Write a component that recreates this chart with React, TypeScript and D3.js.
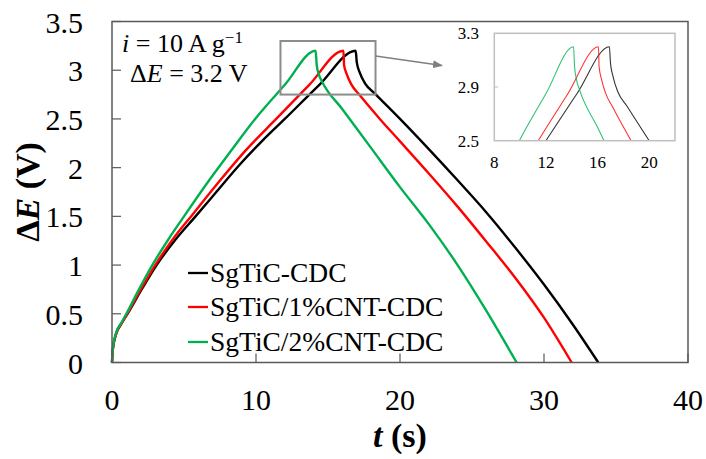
import React from "react";
import * as d3 from "d3";

// ---- data ----
const blackT = [0, 0.05, 0.3, 0.66, 1.16, 2.1, 3.1, 4.4, 5.8, 7.3, 8.8, 10.4, 12.0, 14.4, 16.92, 17.0, 17.22, 17.57, 18.26, 20.0, 22.0, 24.0, 26.0, 28.0, 30.0, 32.0, 33.77];
const blackV = [0, 0.13, 0.3, 0.4, 0.52, 0.76, 1.0, 1.26, 1.5, 1.76, 2.02, 2.27, 2.5, 2.85, 3.2, 3.08, 2.97, 2.865, 2.76, 2.5, 2.19, 1.87, 1.54, 1.18, 0.8, 0.39, 0];
const redT = [0, 0.05, 0.3, 0.66, 1.1, 2.0, 3.0, 4.2, 5.6, 7.4, 9.3, 11.4, 13.7, 16.07, 16.12, 16.3, 16.6, 17.2, 18.6, 20.0, 22.0, 24.0, 26.0, 28.0, 30.0, 31.92];
const redV = [0, 0.13, 0.3, 0.4, 0.51, 0.75, 1.0, 1.26, 1.52, 1.85, 2.18, 2.5, 2.85, 3.2, 3.05, 2.96, 2.86, 2.745, 2.5, 2.27, 1.94, 1.6, 1.24, 0.87, 0.46, 0];
const greenT = [0, 0.05, 0.3, 0.66, 1.0, 1.8, 2.8, 3.9, 5.0, 6.6, 8.2, 9.94, 12.0, 14.14, 14.22, 14.38, 14.6, 16.0, 18.0, 20.0, 22.0, 24.0, 26.0, 28.1];
const greenV = [0, 0.13, 0.31, 0.41, 0.5, 0.73, 1.0, 1.26, 1.5, 1.84, 2.16, 2.5, 2.85, 3.2, 3.05, 2.95, 2.88, 2.6, 2.2, 1.8, 1.42, 1.0, 0.53, 0];

const seriesNames = ["SgTiC-CDC", "SgTiC/1%CNT-CDC", "SgTiC/2%CNT-CDC"];
const seriesColors = ["#000000", "#ff0000", "#00b050"];

const xTicks = [0, 10, 20, 30, 40];
const yTicks = [0, 0.5, 1, 1.5, 2, 2.5, 3, 3.5];
const yTickLabels = ["0", "0.5", "1", "1.5", "2", "2.5", "3", "3.5"];
const insetXTicks = [8, 12, 16, 20];
const insetYTicks = [2.5, 2.9, 3.3];
const insetYTickLabels = ["2.5", "2.9", "3.3"];
const zoomBoxT = [11.7, 18.3];
const zoomBoxV = [2.75, 3.3];

const FONT = "'Liberation Serif', Tinos, 'Times New Roman', Times, 'Nimbus Roman', 'DejaVu Serif', 'Noto Serif', serif";

type P = [number, number];
const zip = (t: number[], v: number[]): P[] => t.map((d, i) => [d, v[i]]);
const series: P[][] = [zip(blackT, blackV), zip(redT, redV), zip(greenT, greenV)];

export default function App() {
  const W = 706, H = 459;
  const x = d3.scaleLinear().domain([0, 40]).range([112, 688]);
  const y = d3.scaleLinear().domain([0, 3.5]).range([362.5, 21.5]);
  const line = d3.line<P>().x(d => x(d[0])).y(d => y(d[1])).curve(d3.curveMonotoneX);

  const ix = d3.scaleLinear().domain([8, 22]).range([494.3, 675]);
  const iy = d3.scaleLinear().domain([2.5, 3.3]).range([140.7, 33.3]);
  const iline = d3.line<P>().x(d => ix(d[0])).y(d => iy(d[1])).curve(d3.curveMonotoneX);

  const legendY = [273, 307, 342];

  return (
    <svg width={W} height={H} style={{ position: "absolute", left: 0, top: 0, background: "#fff", fontFamily: FONT }}>
      <defs>
        <clipPath id="insetClip">
          <rect x={ix(8)} y={iy(3.3)} width={ix(22) - ix(8)} height={iy(2.5) - iy(3.3)} />
        </clipPath>
        <marker id="arr" markerWidth="10" markerHeight="8" refX="9" refY="4" orient="auto" markerUnits="userSpaceOnUse">
          <path d="M0,0 L10,4 L0,8 Z" fill="#808080" />
        </marker>
      </defs>

      {/* main ticks */}
      {yTicks.map(t => (
        <line key={"yt" + t} x1={x(0)} x2={x(0) + 9} y1={y(t)} y2={y(t)} stroke="#595959" strokeWidth={1.2} />
      ))}
      {xTicks.map(t => (
        <line key={"xt" + t} x1={x(t)} x2={x(t)} y1={y(0)} y2={y(0) - 9} stroke="#595959" strokeWidth={1.2} />
      ))}

      {/* curves */}
      {series.map((s, i) => (
        <path key={"s" + i} d={line(s) || ""} fill="none" stroke={seriesColors[i]} strokeWidth={2.4} strokeLinejoin="round" />
      ))}

      {/* frame */}
      <rect x={x(0)} y={y(3.5)} width={x(40) - x(0)} height={y(0) - y(3.5)} fill="none" stroke="#595959" strokeWidth={1.5} />

      {/* tick labels */}
      {yTicks.map((t, i) => (
        <text key={"yl" + t} x={83} y={y(t) + 11} fontSize={30} textAnchor="end" fill="#000">{yTickLabels[i]}</text>
      ))}
      {xTicks.map(t => (
        <text key={"xl" + t} x={x(t)} y={410} fontSize={30} textAnchor="middle" fill="#000">{t}</text>
      ))}

      {/* axis titles */}
      <text x={400} y={447} fontSize={34} fontWeight="bold" textAnchor="middle">
        <tspan fontStyle="italic">t</tspan> (s)
      </text>
      <text transform="translate(39,192) rotate(-90)" fontSize={34} fontWeight="bold" textAnchor="middle">
        Δ<tspan fontStyle="italic">E</tspan> (V)
      </text>

      {/* annotation */}
      <text x={122} y={52} fontSize={26}>
        <tspan fontStyle="italic">i</tspan> = 10 A g<tspan fontSize={17} dy={-9}>−1</tspan>
      </text>
      <text x={130} y={82} fontSize={26}>
        Δ<tspan fontStyle="italic">E</tspan> = 3.2 V
      </text>

      {/* legend */}
      {seriesNames.map((n, i) => (
        <g key={"lg" + i}>
          <line x1={188} x2={208} y1={legendY[i]} y2={legendY[i]} stroke={seriesColors[i]} strokeWidth={2.3} />
          <text x={210} y={legendY[i] + 8.5} fontSize={27.5} fill="#000">{n}</text>
        </g>
      ))}

      {/* zoom box and arrow */}
      <rect x={x(zoomBoxT[0])} y={y(zoomBoxV[1])} width={x(zoomBoxT[1]) - x(zoomBoxT[0])} height={y(zoomBoxV[0]) - y(zoomBoxV[1])}
        fill="none" stroke="#8c8c8c" strokeWidth={2} />
      <line x1={x(zoomBoxT[1])} y1={56} x2={442} y2={65.5} stroke="#808080" strokeWidth={1.5} markerEnd="url(#arr)" />

      {/* inset */}
      <g clipPath="url(#insetClip)">
        {series.map((s, i) => (
          <path key={"is" + i} d={iline(s) || ""} fill="none" stroke={seriesColors[i]} strokeOpacity={0.8} strokeWidth={1.1} />
        ))}
      </g>
      <line x1={ix(8)} x2={ix(8) + 4} y1={iy(2.9)} y2={iy(2.9)} stroke="#bfbfbf" strokeWidth={1} />
      <rect x={ix(8)} y={iy(3.3)} width={ix(22) - ix(8)} height={iy(2.5) - iy(3.3)} fill="none" stroke="#bfbfbf" strokeWidth={1.5} />
      {insetYTicks.map((t, i) => (
        <text key={"iyl" + t} x={479} y={iy(t) + 5.8} fontSize={17} textAnchor="end" fill="#000">{insetYTickLabels[i]}</text>
      ))}
      {insetXTicks.map(t => (
        <text key={"ixl" + t} x={ix(t)} y={167.5} fontSize={17} textAnchor="middle" fill="#000">{t}</text>
      ))}
    </svg>
  );
}
